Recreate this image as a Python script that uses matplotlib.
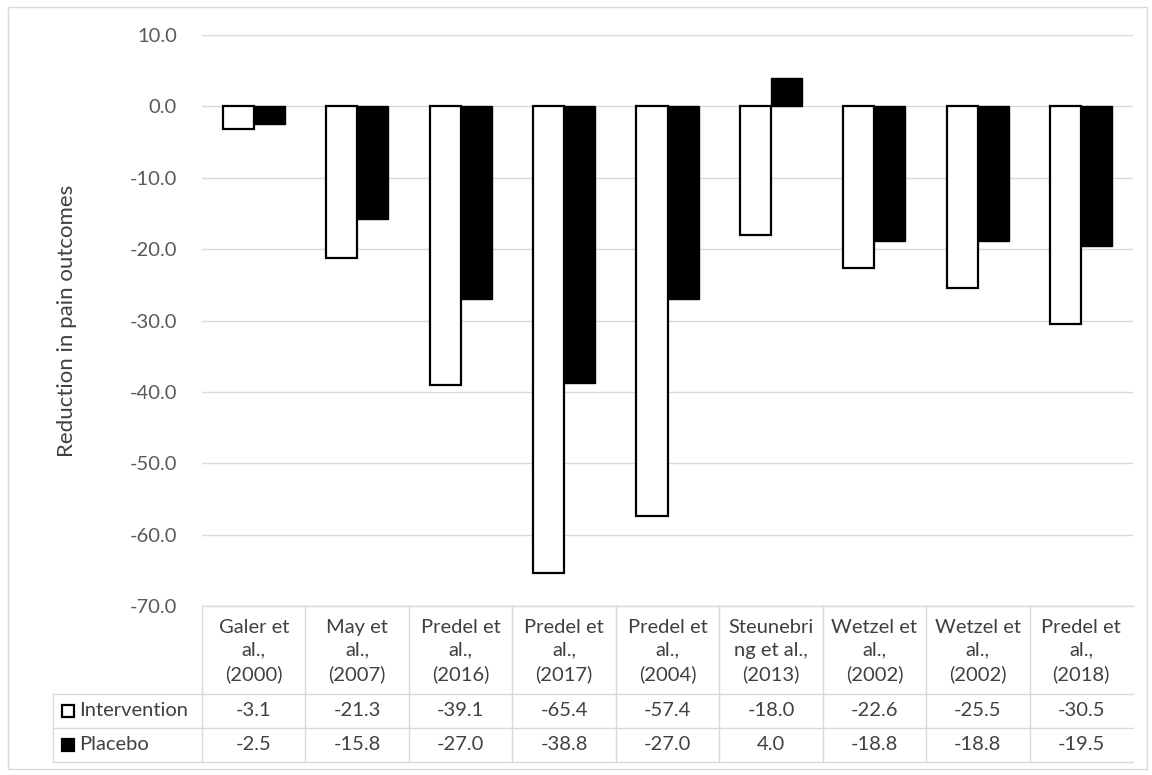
import numpy as np
import matplotlib
matplotlib.use("Agg")
import matplotlib.pyplot as plt
from matplotlib.lines import Line2D
from matplotlib.patches import Rectangle
from matplotlib import transforms

plt.rcParams['font.family'] = ['Lato', 'DejaVu Sans']

studies = [
    "Galer et\nal.,\n(2000)",
    "May et\nal.,\n(2007)",
    "Predel et\nal.,\n(2016)",
    "Predel et\nal.,\n(2017)",
    "Predel et\nal.,\n(2004)",
    "Steunebri\nng et al.,\n(2013)",
    "Wetzel et\nal.,\n(2002)",
    "Wetzel et\nal.,\n(2002)",
    "Predel et\nal.,\n(2018)",
]
intervention = [-3.1, -21.3, -39.1, -65.4, -57.4, -18.0, -22.6, -25.5, -30.5]
placebo = [-2.5, -15.8, -27.0, -38.8, -27.0, 4.0, -18.8, -18.8, -19.5]
series_names = ["Intervention", "Placebo"]
y_ticks = list(range(-70, 11, 10))

W, H = 1152, 775
fig = plt.figure(figsize=(W / 100, H / 100), dpi=100)

def fx(px):
    return px / W

def fy(py):
    return 1 - py / H

grid_col = "#d9d9d9"
text_col = "#404040"
tick_col = "#595959"
fs = 14.5

left, right, top, bottom = 202, 1133, 35, 606
ax = fig.add_axes([fx(left), fy(bottom), fx(right - left), fy(top) - fy(bottom)])

x = np.arange(len(studies))
bw = 0.3
ax.bar(x - bw / 2, intervention, bw, facecolor="white", edgecolor="black",
       linewidth=1.6, zorder=3)
ax.bar(x + bw / 2, placebo, bw, facecolor="black", edgecolor="black",
       linewidth=1.0, zorder=3)

ax.set_xlim(-0.5, len(studies) - 0.5)
ax.set_ylim(-70, 10)
ax.set_yticks(y_ticks)
ax.set_yticklabels([f"{v:.1f}" for v in y_ticks], fontsize=fs, color=tick_col)
ax.tick_params(axis="y", length=0, pad=18)
ax.set_xticks([])
for s in ax.spines.values():
    s.set_visible(False)
ax.grid(axis="y", color=grid_col, linewidth=1.0, zorder=0)
ax.set_axisbelow(True)

ax.set_ylabel("Reduction in pain outcomes", fontsize=16, color=text_col,
               labelpad=38)

# data table beneath the plot
def hline(y, x0, x1):
    fig.add_artist(Line2D([fx(x0), fx(x1)], [fy(y), fy(y)], color=grid_col,
                          linewidth=1.0, transform=fig.transFigure))

def vline(xp, y0, y1):
    fig.add_artist(Line2D([fx(xp), fx(xp)], [fy(y0), fy(y1)], color=grid_col,
                          linewidth=1.0, transform=fig.transFigure))

row_top, row1, row2, row_bot = 606, 694, 728, 762
hline(row_top, left, right)
hline(row1, 53, right)
hline(row2, 53, right)
hline(row_bot, 53, right)
vline(53, row1, row_bot)
col_w = (right - left) / len(studies)
for i in range(len(studies)):
    vline(left + i * col_w, row_top, row_bot)

trans = transforms.blended_transform_factory(ax.transData, fig.transFigure)
for i, lab in enumerate(studies):
    ax.text(i, fy(651), lab, transform=trans, ha="center", va="center",
            fontsize=fs, color=text_col, linespacing=1.4, clip_on=False)
    ax.text(i, fy((row1 + row2) / 2), f"{intervention[i]:.1f}", transform=trans,
            ha="center", va="center", fontsize=fs, color=text_col, clip_on=False)
    ax.text(i, fy((row2 + row_bot) / 2), f"{placebo[i]:.1f}", transform=trans,
            ha="center", va="center", fontsize=fs, color=text_col, clip_on=False)

# legend keys in the row headers
for j, (name, fc) in enumerate(zip(series_names, ["white", "black"])):
    yc = (row1 + row2) / 2 if j == 0 else (row2 + row_bot) / 2
    fig.add_artist(Rectangle((fx(62), fy(yc + 6)), fx(12), fy(yc - 6) - fy(yc + 6),
                             facecolor=fc, edgecolor="black", linewidth=1.6,
                             transform=fig.transFigure))
    fig.text(fx(79), fy(yc), name, ha="left", va="center", fontsize=fs,
             color=text_col)

# chart area border
fig.add_artist(Rectangle((fx(8), fy(769)), fx(1139), fy(7) - fy(769),
                         facecolor="none", edgecolor=grid_col, linewidth=1.0,
                         transform=fig.transFigure))

fig.savefig("out.png", dpi=100)
